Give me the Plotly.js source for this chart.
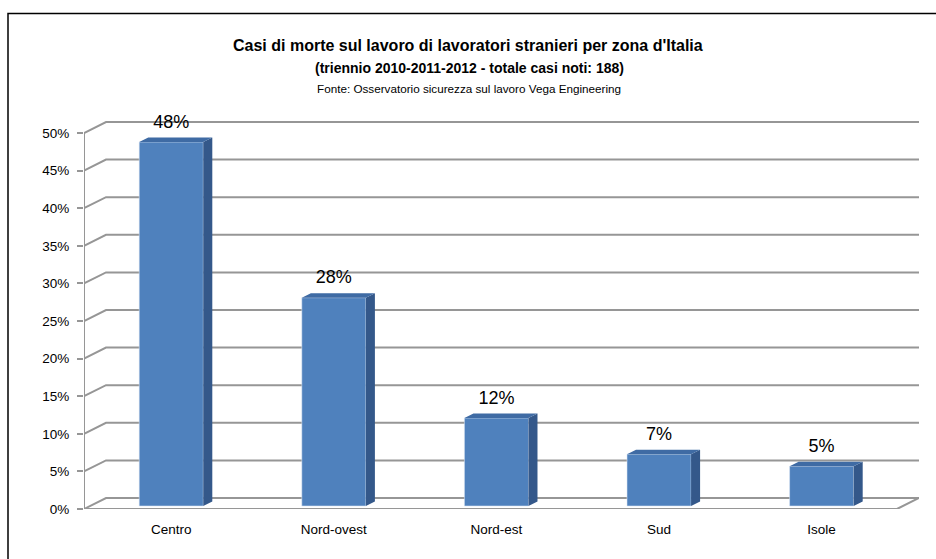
<!DOCTYPE html>
<html>
<head>
<meta charset="utf-8">
<script src="https://cdn.plot.ly/plotly-3.0.1.min.js"></script>
<style>html,body{margin:0;padding:0;background:#fff;}#chart{width:936px;height:559px;}</style>
</head>
<body>
<div id="chart"></div>
<script>
// ---- data ----
const categories = ['Centro', 'Nord-ovest', 'Nord-est', 'Sud', 'Isole'];
const shares = [0.484, 0.277, 0.117, 0.069, 0.053];
const yTicks = [0, 0.05, 0.10, 0.15, 0.20, 0.25, 0.30, 0.35, 0.40, 0.45, 0.50];
const titleMain = "Casi di morte sul lavoro di lavoratori stranieri per zona d'Italia";
const titleSub = "(triennio 2010-2011-2012 - totale casi noti: 188)";
const titleSource = "Fonte: Osservatorio sicurezza sul lavoro Vega Engineering";

// ---- pseudo-3D geometry (style, not data) ----
const DX = 22 / 162.5;    // depth shift in category units
const DY = 11 / 752;      // depth shift in value units
const dF = 0.27, dB = 0.68; // bar front / back depth
const W = 0.394;          // bar width
const XL = -0.5, XR = categories.length - 0.5;
const FONT = "'Liberation Sans', Arial, sans-serif";
const GRID = '#969696';

const idx = categories.map((c, i) => i);
const frontX = idx.map(i => i + DX * dF);

// grid lines as shapes beneath the bars
const shapes = [];
yTicks.forEach(t => {
  shapes.push({type: 'path', layer: 'below', xref: 'x', yref: 'y',
    path: `M ${XL},${t} L ${XL + DX},${t + DY} L ${XR + DX},${t + DY}`,
    line: {color: GRID, width: 2}});
});
// floor front edge + right side, axis line
shapes.push({type: 'path', layer: 'below', xref: 'x', yref: 'y',
  path: `M ${XL},0 L ${XR},0 L ${XR + DX},${DY}`, line: {color: GRID, width: 2}});
shapes.push({type: 'line', layer: 'below', xref: 'x', yref: 'y',
  x0: XL, x1: XL, y0: 0, y1: yTicks[yTicks.length - 1], line: {color: GRID, width: 2}});
// outer frame (top and left only visible)
shapes.push({type: 'path', xref: 'paper', yref: 'paper',
  path: `M ${(8 - 84) / 835},-0.2 L ${(8 - 84) / 835},${(509 - 13.5) / 409} L 1.1,${(509 - 13.5) / 409}`,
  line: {color: '#000', width: 1.5}});

// side and top faces
const sideX = [], sideY = [], topX = [], topY = [];
shares.forEach((v, i) => {
  const xr = i + W / 2, xl = i - W / 2;
  sideX.push(xr + DX * dF, xr + DX * dB, xr + DX * dB, xr + DX * dF, null);
  sideY.push(DY * dF, DY * dB, v + DY * dB, v + DY * dF, null);
  topX.push(xl + DX * dF, xr + DX * dF, xr + DX * dB, xl + DX * dB, null);
  topY.push(v + DY * dF, v + DY * dF, v + DY * dB, v + DY * dB, null);
});

const traces = [
  {type: 'bar', x: frontX, y: shares, base: idx.map(() => DY * dF), width: W,
   marker: {color: '#4F81BD', line: {color: 'rgba(220,230,245,0.7)', width: 0.8}},
   hoverinfo: 'skip', showlegend: false},
  {type: 'scatter', mode: 'lines', x: sideX, y: sideY, fill: 'toself',
   fillcolor: '#34588A', line: {width: 0, color: '#34588A'}, hoverinfo: 'skip', showlegend: false},
  {type: 'scatter', mode: 'lines', x: topX, y: topY, fill: 'toself',
   fillcolor: '#3F6BA4', line: {width: 0, color: '#3F6BA4'}, hoverinfo: 'skip', showlegend: false},
  {type: 'scatter', mode: 'text', x: frontX, y: shares.map(v => v + DY * dB + 0.007),
   text: shares.map(v => Math.round(v * 100) + '%'), textposition: 'top center',
   textfont: {family: FONT, size: 18, color: '#000'}, cliponaxis: false,
   hoverinfo: 'skip', showlegend: false}
];

const pX = px => (px - 84) / 835;
const pY = py => (509 - py) / 409;

const layout = {
  width: 936, height: 559,
  margin: {l: 84, r: 17, t: 100, b: 50},
  paper_bgcolor: '#fff', plot_bgcolor: 'rgba(0,0,0,0)',
  showlegend: false,
  font: {family: FONT, color: '#000'},
  xaxis: {range: [XL, XR + DX], tickvals: frontX, ticktext: categories,
    showgrid: false, zeroline: false, showline: false, ticks: 'outside', ticklen: 8,
    tickcolor: 'rgba(0,0,0,0)', tickfont: {family: FONT, size: 13.5, color: '#000'}},
  yaxis: {range: [0, 409 / 752], tickvals: yTicks, tickformat: '.0%',
    showgrid: false, zeroline: false, showline: false, ticks: 'outside', ticklen: 6,
    tickwidth: 2, tickcolor: GRID, ticklabelstandoff: 5,
    tickfont: {family: FONT, size: 13.5, color: '#000'}},
  shapes: shapes,
  annotations: [
    {text: '<b>' + titleMain + '</b>', xref: 'paper', yref: 'paper', x: pX(468), y: pY(46),
     xanchor: 'center', yanchor: 'middle', showarrow: false, font: {family: FONT, size: 16}},
    {text: '<b>' + titleSub + '</b>', xref: 'paper', yref: 'paper', x: pX(469), y: pY(68),
     xanchor: 'center', yanchor: 'middle', showarrow: false, font: {family: FONT, size: 14}},
    {text: titleSource, xref: 'paper', yref: 'paper', x: pX(469), y: pY(88),
     xanchor: 'center', yanchor: 'middle', showarrow: false, font: {family: FONT, size: 11.7}}
  ]
};

Plotly.newPlot('chart', traces, layout, {displayModeBar: false, staticPlot: true});
</script>
</body>
</html>
